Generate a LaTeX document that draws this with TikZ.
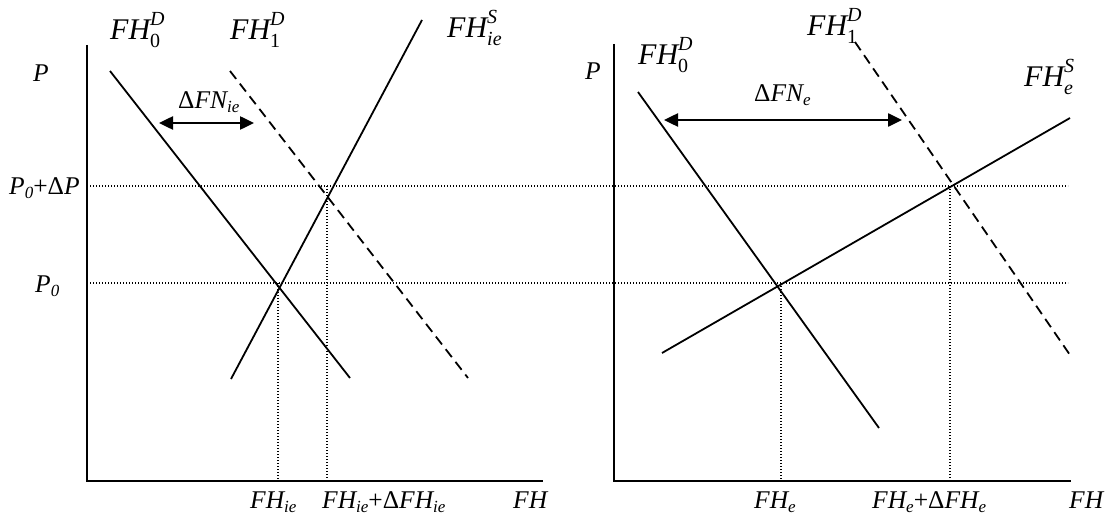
\documentclass[tikz,border=0pt]{standalone}
\usepackage{fontspec}
\setmainfont{Liberation Serif}
\usetikzlibrary{arrows.meta}
\newcommand\bigf{\fontsize{30}{34}\selectfont}
\newcommand\bigs{\fontsize{20}{22}\selectfont}
\newcommand\medf{\fontsize{25.5}{28}\selectfont}
\newcommand\meds{\fontsize{17}{19}\selectfont}
\newcommand\cl[2]{{\bigf\itshape FH}\rlap{\raisebox{-8pt}{\bigs #1}}\raisebox{14pt}{\bigs\itshape #2}}
\newcommand\ms[1]{\raisebox{-4pt}{\meds\itshape #1}}
\begin{document}
\begin{tikzpicture}[x=1pt,y=-1pt,
  axis/.style={line width=2.2pt},
  curve/.style={line width=1.8pt},
  dcurve/.style={line width=1.8pt, dash pattern=on 10pt off 6pt},
  dotline/.style={line width=1.1pt, dash pattern=on 1pt off 2pt},
  dblarrow/.style={line width=2.5pt, {Triangle[length=14pt,width=13pt]}-{Triangle[length=14pt,width=13pt]}},
  lab/.style={inner sep=0pt, anchor=base west},
  axlab/.style={inner sep=0pt, anchor=base west, font=\medf\itshape}]
\useasboundingbox (0,0) rectangle (1105,516);
% ---- left panel ----
\coordinate (LT) at (87,45);
\coordinate (LO) at (87,481);
\coordinate (LR) at (543,481);
\draw[axis] (LT) -- (LO) -- (LR);
\coordinate (H1a) at (87,186); \coordinate (H1b) at (1068,186);
\coordinate (H0a) at (87,283); \coordinate (H0b) at (1068,283);
\draw[dotline] (H1a) -- (H1b);
\draw[dotline] (H0a) -- (H0b);
\coordinate (V1t) at (278,283); \coordinate (V1b) at (278,481);
\coordinate (V2t) at (327,186); \coordinate (V2b) at (327,481);
\draw[dotline] (V1t) -- (V1b);
\draw[dotline] (V2t) -- (V2b);
\coordinate (D0La) at (110,71); \coordinate (D0Lb) at (350,378);
\coordinate (D1La) at (230,71); \coordinate (D1Lb) at (468,378);
\coordinate (SLa) at (231,379); \coordinate (SLb) at (422,20);
\draw[curve] (D0La) -- (D0Lb);
\draw[dcurve] (D1La) -- (D1Lb);
\draw[curve] (SLa) -- (SLb);
\coordinate (ALa) at (159,123); \coordinate (ALb) at (254,123);
\draw[dblarrow] (ALa) -- (ALb);
\node[lab] (tD0L) at (110,40) {\cl{0}{D}};
\node[lab] (tD1L) at (230,40) {\cl{1}{D}};
\node[lab] (tSL) at (447,38) {\cl{\itshape ie}{S}};
\node[axlab] (tNL) at (178,109) {\textup{Δ}FN\ms{ie}};
\node[axlab] (tPL) at (33,82) {P};
\node[axlab] (tP1) at (9,194) {P\ms{0}\textup{+Δ}P};
\node[axlab] (tP0) at (35,292) {P\ms{0}};
\node[axlab] (tX1) at (250,508) {FH\ms{ie}};
\node[axlab] (tX2) at (322,508) {FH\ms{ie}\textup{+Δ}FH\ms{ie}};
\node[axlab] (tX3) at (513,508) {FH};
% ---- right panel ----
\coordinate (RT) at (614,44);
\coordinate (RO) at (614,481);
\coordinate (RR) at (1071,481);
\draw[axis] (RT) -- (RO) -- (RR);
\coordinate (V3t) at (781,283); \coordinate (V3b) at (781,481);
\coordinate (V4t) at (950,186); \coordinate (V4b) at (950,481);
\draw[dotline] (V3t) -- (V3b);
\draw[dotline] (V4t) -- (V4b);
\coordinate (D0Ra) at (638,92); \coordinate (D0Rb) at (879,428);
\coordinate (D1Ra) at (855,42); \coordinate (D1Rb) at (1070,355);
\coordinate (SRa) at (662,353); \coordinate (SRb) at (1070,118);
\draw[curve] (D0Ra) -- (D0Rb);
\draw[dcurve] (D1Ra) -- (D1Rb);
\draw[curve] (SRa) -- (SRb);
\coordinate (ARa) at (664,120); \coordinate (ARb) at (902,120);
\draw[dblarrow] (ARa) -- (ARb);
\node[lab] (tD0R) at (638,65) {\cl{0}{D}};
\node[lab] (tD1R) at (807,36) {\cl{1}{D}};
\node[lab] (tSR) at (1024,87) {\cl{\itshape e}{S}};
\node[axlab] (tNR) at (754,102) {\textup{Δ}FN\ms{e}};
\node[axlab] (tPR) at (585,80) {P};
\node[axlab] (tX4) at (754,508) {FH\ms{e}};
\node[axlab] (tX5) at (872,508) {FH\ms{e}\textup{+Δ}FH\ms{e}};
\node[axlab] (tX6) at (1069,508) {FH};
\end{tikzpicture}
\end{document}
